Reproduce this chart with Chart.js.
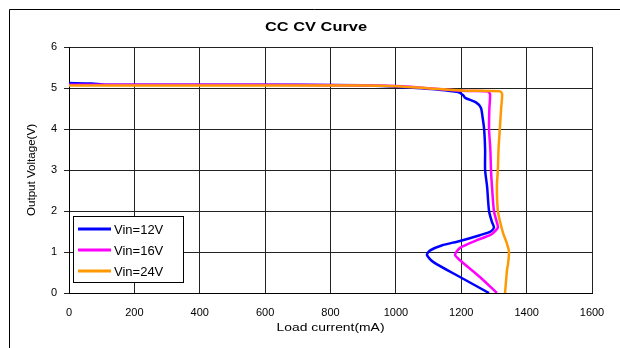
<!DOCTYPE html>
<html>
<head>
<meta charset="utf-8">
<script src="https://cdn.jsdelivr.net/npm/chart.js@4/dist/chart.umd.min.js"></script>
<style>
  html, body { margin: 0; padding: 0; background: #fff; }
</style>
</head>
<body>
<canvas id="ccCv" width="620" height="348"></canvas>
<script>
// Vin = 12V
const vin12Current = [0, 70, 110, 500, 900, 1000, 1130, 1190, 1205, 1212, 1245, 1260, 1265, 1270, 1273, 1273, 1279, 1285, 1294, 1300, 1290, 1257, 1196, 1140, 1105, 1095, 1114, 1196, 1285];
const vin12Voltage = [5.12, 5.11, 5.08, 5.08, 5.07, 5.03, 4.96, 4.9, 4.83, 4.76, 4.65, 4.52, 4.3, 4.0, 3.5, 3.0, 2.6, 2.0, 1.73, 1.6, 1.5, 1.41, 1.27, 1.16, 1.04, 0.93, 0.76, 0.39, 0.0];
// Vin = 16V
const vin16Current = [0, 500, 1000, 1200, 1280, 1288, 1286, 1285, 1289, 1291, 1294, 1300, 1308, 1312, 1300, 1288, 1248, 1196, 1181, 1196, 1257, 1309];
const vin16Voltage = [5.08, 5.08, 5.05, 4.93, 4.92, 4.85, 4.5, 4.0, 3.5, 3.0, 2.6, 2.0, 1.75, 1.6, 1.48, 1.41, 1.29, 1.1, 0.93, 0.8, 0.39, 0.0];
// Vin = 24V
const vin24Current = [0, 500, 900, 1000, 1200, 1318, 1325, 1322, 1318, 1314, 1312, 1309, 1312, 1320, 1328, 1340, 1346, 1343, 1340, 1334];
const vin24Voltage = [5.06, 5.06, 5.06, 5.04, 4.94, 4.92, 4.86, 4.5, 4.0, 3.5, 3.0, 2.6, 2.0, 1.7, 1.46, 1.2, 1.0, 0.7, 0.56, 0.0];

const seriesNames = ["Vin=12V", "Vin=16V", "Vin=24V"];
const seriesColors = ["#0000FF", "#FF00FF", "#FF9900"];
const xTicks = [0, 200, 400, 600, 800, 1000, 1200, 1400, 1600];
const yTicks = [0, 1, 2, 3, 4, 5, 6];
const chartTitle = "CC CV Curve";
const xTitle = "Load current(mA)";
const yTitle = "Output Voltage(V)";

const toPoints = (xs, ys) => xs.map((x, i) => ({ x: x, y: ys[i] }));
const FONT = "'Liberation Sans', Arial, sans-serif";

// text drawn a bit wider than the font, like the original export
function wideText(c, text, cx, cy, width, font, angle) {
  c.save();
  c.font = font;
  c.textAlign = "center";
  c.textBaseline = "middle";
  c.fillStyle = "#000";
  c.translate(cx, cy);
  if (angle) c.rotate(angle);
  c.scale(width / c.measureText(text).width, 1);
  c.fillText(text, 0, 0);
  c.restore();
}

// outer frame, background, titles
const framePlugin = {
  id: "frame",
  beforeDraw(chart) {
    const c = chart.ctx;
    c.save();
    c.fillStyle = "#fff";
    c.fillRect(0, 0, chart.width, chart.height);
    c.strokeStyle = "#000";
    c.lineWidth = 1;
    c.beginPath();
    c.moveTo(9.5, chart.height);
    c.lineTo(9.5, 9.5);
    c.lineTo(chart.width, 9.5);
    c.stroke();
    c.restore();
    const a = chart.chartArea;
    wideText(c, chartTitle, 316, 28, 102, "bold 12px " + FONT);
    wideText(c, xTitle, (a.left + a.right) / 2, 328, 108, "11px " + FONT);
    wideText(c, yTitle, 32, (a.top + a.bottom) / 2, 92, "11px " + FONT, -Math.PI / 2);
  },
};

// boxed legend inside the plot, lower left
const boxLegend = {
  id: "boxLegend",
  afterDatasetsDraw(chart) {
    const c = chart.ctx;
    c.save();
    c.fillStyle = "#fff";
    c.fillRect(73, 216, 110, 66);
    c.strokeStyle = "#000";
    c.lineWidth = 1;
    c.strokeRect(73.5, 216.5, 110, 66);
    const rows = [229, 250, 271];
    c.font = "13px " + FONT;
    c.textBaseline = "middle";
    seriesNames.forEach((name, i) => {
      c.strokeStyle = seriesColors[i];
      c.lineWidth = 3;
      c.beginPath();
      c.moveTo(78, rows[i]);
      c.lineTo(111, rows[i]);
      c.stroke();
      c.fillStyle = "#000";
      c.fillText(name, 114, rows[i] + 1);
    });
    c.restore();
  },
};

const ctx = document.getElementById("ccCv").getContext("2d");

new Chart(ctx, {
  type: "line",
  data: {
    datasets: [
      { label: seriesNames[0], data: toPoints(vin12Current, vin12Voltage), order: 3 },
      { label: seriesNames[1], data: toPoints(vin16Current, vin16Voltage), order: 2 },
      { label: seriesNames[2], data: toPoints(vin24Current, vin24Voltage), order: 1 },
    ].map((d, i) => ({
      ...d,
      borderColor: seriesColors[i],
      backgroundColor: seriesColors[i],
      borderWidth: 2.5,
      pointRadius: 0,
      tension: 0.25,
      fill: false,
    })),
  },
  options: {
    responsive: false,
    animation: false,
    layout: { padding: { left: 0, right: 28, top: 47, bottom: 0 } },
    plugins: {
      legend: { display: false },
      tooltip: { enabled: false },
      title: { display: false },
    },
    scales: {
      x: {
        type: "linear",
        min: 0,
        max: 1600,
        afterBuildTicks: (s) => { s.ticks = xTicks.map((v) => ({ value: v })); },
        afterFit: (s) => { s.height = 55; },
        ticks: {
          color: "#000",
          padding: 13,
          maxRotation: 0,
          autoSkip: false,
          callback: (v) => String(v),
          font: { family: FONT, size: 11 },
        },
        grid: { color: "#222", lineWidth: 1, tickLength: 0 },
        border: { color: "#000", width: 1 },
        title: { display: false },
      },
      y: {
        type: "linear",
        min: 0,
        max: 6,
        afterBuildTicks: (s) => { s.ticks = yTicks.map((v) => ({ value: v })); },
        afterFit: (s) => { s.width = 69; },
        ticks: {
          color: "#000",
          padding: 7,
          autoSkip: false,
          callback: (v) => String(v),
          font: { family: FONT, size: 11 },
        },
        grid: { color: "#222", lineWidth: 1, tickLength: 5 },
        border: { color: "#000", width: 1 },
        title: { display: false },
      },
    },
  },
  plugins: [framePlugin, boxLegend],
});
</script>
</body>
</html>
